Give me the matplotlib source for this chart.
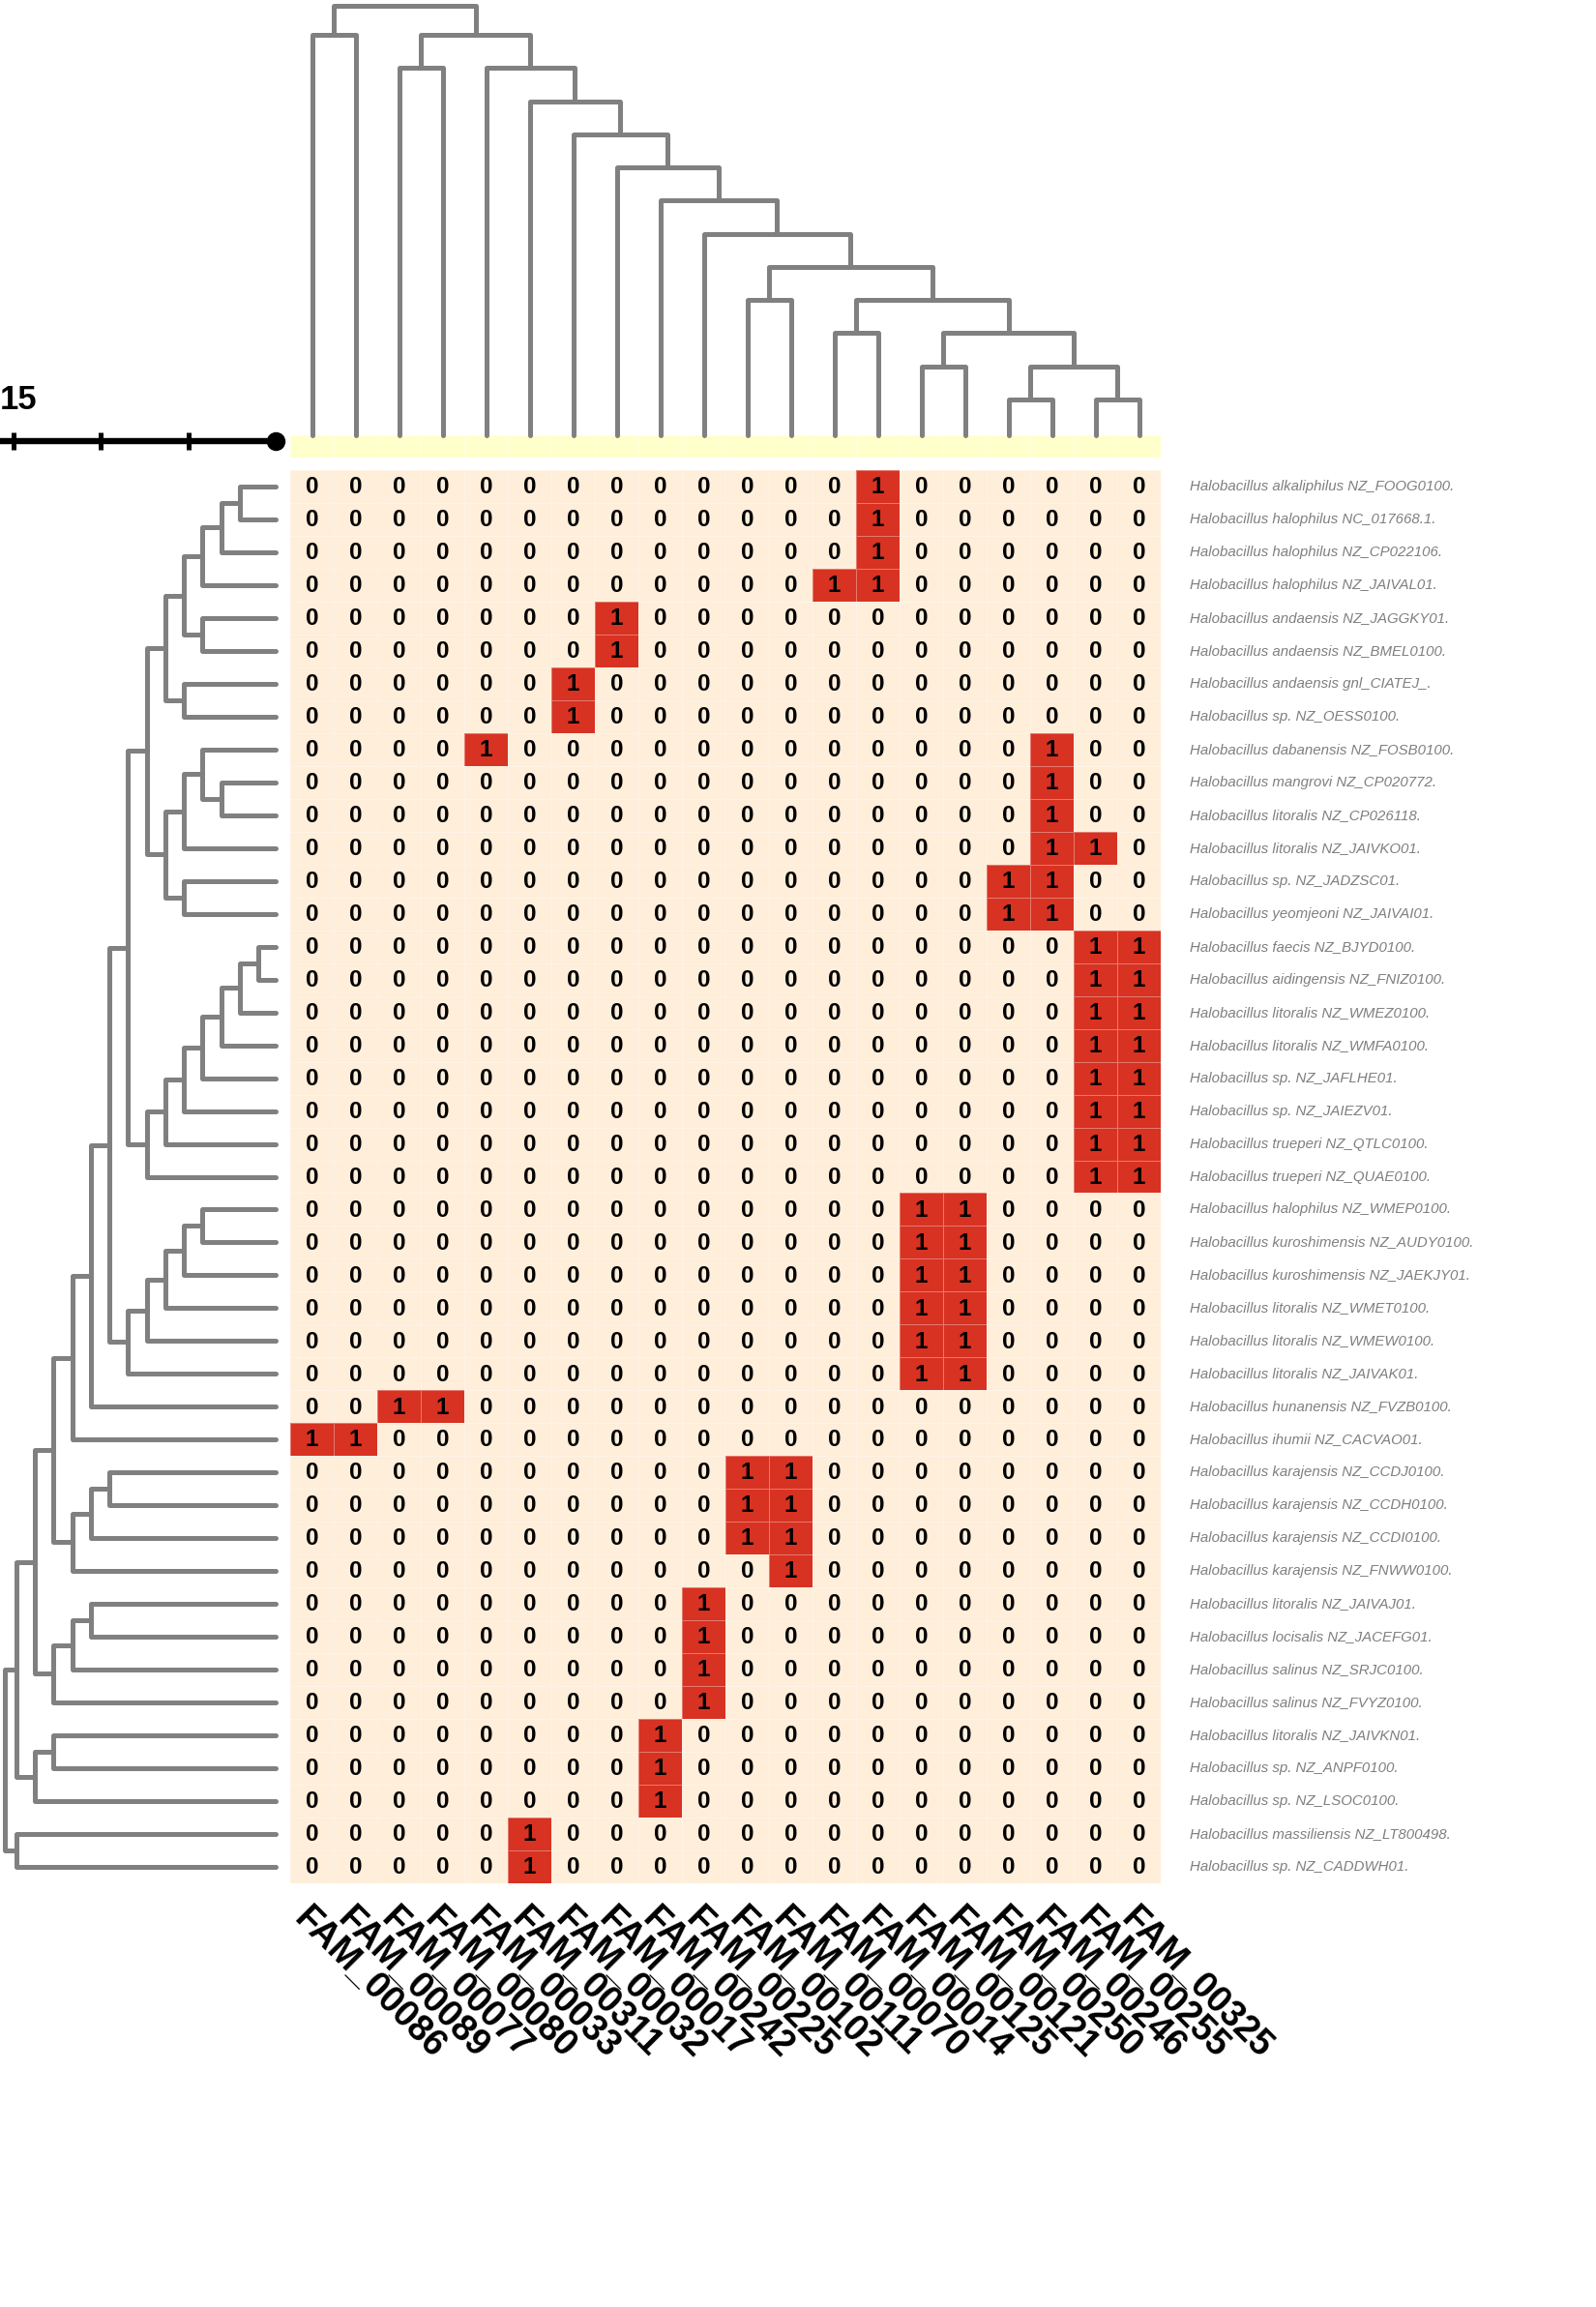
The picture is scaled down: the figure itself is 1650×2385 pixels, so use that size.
import matplotlib.pyplot as plt
from matplotlib.colors import ListedColormap
import numpy as np

# ================= DATA =================
FAMILIES = ["FAM_00086", "FAM_00089", "FAM_00077", "FAM_00080", "FAM_00033",
            "FAM_00311", "FAM_00032", "FAM_00017", "FAM_00242", "FAM_00225",
            "FAM_00102", "FAM_00111", "FAM_00070", "FAM_00014", "FAM_00125",
            "FAM_00121", "FAM_00250", "FAM_00246", "FAM_00255", "FAM_00325"]

GENOMES = [
    "Halobacillus alkaliphilus NZ_FOOG0100.",
    "Halobacillus halophilus NC_017668.1.",
    "Halobacillus halophilus NZ_CP022106.",
    "Halobacillus halophilus NZ_JAIVAL01.",
    "Halobacillus andaensis NZ_JAGGKY01.",
    "Halobacillus andaensis NZ_BMEL0100.",
    "Halobacillus andaensis gnl_CIATEJ_.",
    "Halobacillus sp. NZ_OESS0100.",
    "Halobacillus dabanensis NZ_FOSB0100.",
    "Halobacillus mangrovi NZ_CP020772.",
    "Halobacillus litoralis NZ_CP026118.",
    "Halobacillus litoralis NZ_JAIVKO01.",
    "Halobacillus sp. NZ_JADZSC01.",
    "Halobacillus yeomjeoni NZ_JAIVAI01.",
    "Halobacillus faecis NZ_BJYD0100.",
    "Halobacillus aidingensis NZ_FNIZ0100.",
    "Halobacillus litoralis NZ_WMEZ0100.",
    "Halobacillus litoralis NZ_WMFA0100.",
    "Halobacillus sp. NZ_JAFLHE01.",
    "Halobacillus sp. NZ_JAIEZV01.",
    "Halobacillus trueperi NZ_QTLC0100.",
    "Halobacillus trueperi NZ_QUAE0100.",
    "Halobacillus halophilus NZ_WMEP0100.",
    "Halobacillus kuroshimensis NZ_AUDY0100.",
    "Halobacillus kuroshimensis NZ_JAEKJY01.",
    "Halobacillus litoralis NZ_WMET0100.",
    "Halobacillus litoralis NZ_WMEW0100.",
    "Halobacillus litoralis NZ_JAIVAK01.",
    "Halobacillus hunanensis NZ_FVZB0100.",
    "Halobacillus ihumii NZ_CACVAO01.",
    "Halobacillus karajensis NZ_CCDJ0100.",
    "Halobacillus karajensis NZ_CCDH0100.",
    "Halobacillus karajensis NZ_CCDI0100.",
    "Halobacillus karajensis NZ_FNWW0100.",
    "Halobacillus litoralis NZ_JAIVAJ01.",
    "Halobacillus locisalis NZ_JACEFG01.",
    "Halobacillus salinus NZ_SRJC0100.",
    "Halobacillus salinus NZ_FVYZ0100.",
    "Halobacillus litoralis NZ_JAIVKN01.",
    "Halobacillus sp. NZ_ANPF0100.",
    "Halobacillus sp. NZ_LSOC0100.",
    "Halobacillus massiliensis NZ_LT800498.",
    "Halobacillus sp. NZ_CADDWH01.",
]

# presence (1) / absence (0) of each family, one string per genome
PRESENCE = [
    "00000000000001000000",
    "00000000000001000000",
    "00000000000001000000",
    "00000000000011000000",
    "00000001000000000000",
    "00000001000000000000",
    "00000010000000000000",
    "00000010000000000000",
    "00001000000000000100",
    "00000000000000000100",
    "00000000000000000100",
    "00000000000000000110",
    "00000000000000001100",
    "00000000000000001100",
    "00000000000000000011",
    "00000000000000000011",
    "00000000000000000011",
    "00000000000000000011",
    "00000000000000000011",
    "00000000000000000011",
    "00000000000000000011",
    "00000000000000000011",
    "00000000000000110000",
    "00000000000000110000",
    "00000000000000110000",
    "00000000000000110000",
    "00000000000000110000",
    "00000000000000110000",
    "00110000000000000000",
    "11000000000000000000",
    "00000000001100000000",
    "00000000001100000000",
    "00000000001100000000",
    "00000000000100000000",
    "00000000010000000000",
    "00000000010000000000",
    "00000000010000000000",
    "00000000010000000000",
    "00000000100000000000",
    "00000000100000000000",
    "00000000100000000000",
    "00000100000000000000",
    "00000100000000000000",
]

# column annotation strip (single group)
COL_GROUP = [0, 0, 0, 0, 0, 0, 0, 0, 0, 0, 0, 0, 0, 0, 0, 0, 0, 0, 0, 0]

# family tree (leaf = column index)
COL_TREE = ((0, 1), ((2, 3), (4, (5, (6, (7, (8, (9, ((10, 11), ((12, 13), ((14, 15), ((16, 17), (18, 19)))))))))))))

# genome tree (leaf = row index)
_A = (((((0, 1), 2), 3), (4, 5)), (6, 7))
_B = (((8, (9, 10)), 11), (12, 13))
_C = (((((((14, 15), 16), 17), 18), 19), 20), 21)
_D = (((((22, 23), 24), 25), 26), 27)
_E = (((30, 31), 32), 33)
_F = (((34, 35), 36), 37)
_G = ((38, 39), 40)
_H = (41, 42)
ROW_TREE = (((((((((_A, _B), _C), _D), 28), 29), _E), _F), _G), _H)

SCALE_TICKS = [15, 10, 5]
SCALE_LABEL = "15"

# ================= STYLE =================
W, H, DPI = 1650, 2385, 100
CREAM = "#FEEEDA"
RED = "#D83222"
STRIP = "#FFFFCC"
TREE_GREY = "#808080"
LABEL_GREY = "#7F7F7F"
TREE_LW = 3.6
FONT = "Liberation Sans"


def px_axes(fig, left, top, right, bottom):
    ax = fig.add_axes([left / W, 1 - bottom / H, (right - left) / W, (bottom - top) / H])
    ax.axis("off")
    return ax


def tree_lines(tree, leaf_depth, root_depth):
    """Return polylines (positions, depths) of a cladogram drawn by node depth."""
    lines = []

    def walk(node, depth):
        if not isinstance(node, tuple):
            return node + 0.5, leaf_depth
        d = root_depth if depth == 0 else depth
        kids = [walk(k, depth + 1) for k in node]
        pos = np.mean([k[0] for k in kids])
        for kp, kd in kids:
            lines.append(([kp, kp, pos], [kd, d, d]))
        return pos, d

    walk(tree, 0)
    return lines


def main():
    plt.rcParams['font.family'] = [FONT, 'DejaVu Sans']
    fig = plt.figure(figsize=(W / DPI, H / DPI), dpi=DPI)

    mat = np.array([[int(c) for c in row] for row in PRESENCE])
    n_rows, n_cols = mat.shape

    # heatmap
    ax = px_axes(fig, 300, 486, 1200, 1947)
    ax.pcolormesh(mat, cmap=ListedColormap([CREAM, RED]), vmin=0, vmax=1,
                  edgecolors=(1, 1, 1, 0.35), linewidth=0.6)
    ax.set_xlim(0, n_cols)
    ax.set_ylim(n_rows, 0)
    for i in range(n_rows):
        for j in range(n_cols):
            ax.text(j + 0.5, i + 0.52, str(mat[i, j]), ha='center', va='center',
                    fontsize=17.5, fontweight='bold', color='black')
        ax.text(n_cols + 0.67, i + 0.5, GENOMES[i], ha='left', va='center',
                fontsize=10.8, style='italic', color=LABEL_GREY, clip_on=False)
    for j, fam in enumerate(FAMILIES):
        ax.text(j + 0.5, n_rows + 0.55, fam, rotation=-45, rotation_mode='anchor',
                ha='left', va='top', fontsize=27, fontweight='bold', color='black',
                clip_on=False)

    # column annotation strip
    sax = px_axes(fig, 300, 450, 1200, 473)
    sax.pcolormesh(np.array([COL_GROUP]), cmap=ListedColormap([STRIP]),
                   edgecolors=(1, 1, 1, 0.35), linewidth=0.6)
    sax.set_xlim(0, n_cols)

    # top dendrogram (families)
    tax = px_axes(fig, 300, 0, 1200, 450)
    top_ylim = (13.08, -0.05)
    for xs, ys in tree_lines(COL_TREE, top_ylim[0], 0.125):
        tax.plot(xs, ys, color=TREE_GREY, lw=TREE_LW, solid_capstyle='round',
                 solid_joinstyle='round', clip_on=False)
    tax.set_xlim(0, n_cols)
    tax.set_ylim(*top_ylim)

    # left dendrogram (genomes)
    lax = px_axes(fig, 0, 486, 285, 1947)
    left_xlim = (0.114, 14.935)
    for ys, xs in tree_lines(ROW_TREE, left_xlim[1], 0.37):
        lax.plot(xs, ys, color=TREE_GREY, lw=TREE_LW, solid_capstyle='round',
                 solid_joinstyle='round', clip_on=False)
    lax.set_xlim(*left_xlim)
    lax.set_ylim(n_rows, 0)

    # scale bar
    bax = px_axes(fig, 0, 436, 285, 476)
    bax.set_xlim(15.775, 0)
    bax.set_ylim(-1, 1)
    bax.plot([15.775, 0], [0, 0], color='black', lw=4.6, solid_capstyle='butt', clip_on=False)
    for t in SCALE_TICKS:
        bax.plot([t, t], [-0.45, 0.45], color='black', lw=3.6, solid_capstyle='butt', clip_on=False)
    bax.plot([0], [0], 'o', color='black', markersize=13, clip_on=False)
    bax.text(15.775, 1.65, SCALE_LABEL, ha='left', va='baseline', fontsize=25,
             fontweight='bold', color='black', clip_on=False)

    fig.savefig("out.png", dpi=DPI)
    plt.close(fig)


if __name__ == "__main__":
    main()
